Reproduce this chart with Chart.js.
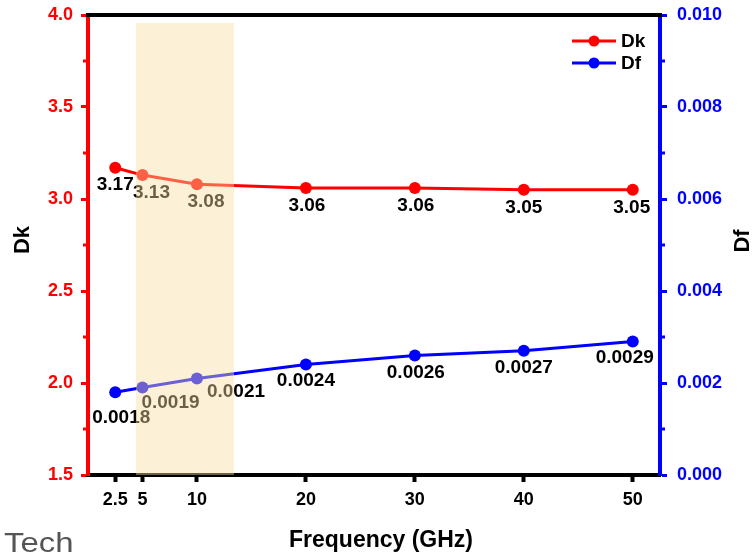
<!DOCTYPE html>
<html><head><meta charset="utf-8">
<script src="https://cdn.jsdelivr.net/npm/chart.js@4"></script>
<style>html,body{margin:0;padding:0;background:#fff}#wrap{width:754px;height:553px}</style>
</head><body><div id="wrap"><canvas id="c" width="754" height="553"></canvas></div>
<script>
const frequencies = [2.5, 5, 10, 20, 30, 40, 50];
const dkValues = [3.17, 3.13, 3.08, 3.06, 3.06, 3.05, 3.05];
const dfValues = [0.0018, 0.0019, 0.0021, 0.0024, 0.0026, 0.0027, 0.0029];
const xTickValues = [2.5, 5, 10, 20, 30, 40, 50];
const dkTickValues = [1.5, 2.0, 2.5, 3.0, 3.5, 4.0];
const dfTickValues = [0, 0.002, 0.004, 0.006, 0.008, 0.010];
const dkLabels = ['3.17', '3.13', '3.08', '3.06', '3.06', '3.05', '3.05'];
const dfLabels = ['0.0018', '0.0019', '0.0021', '0.0024', '0.0026', '0.0027', '0.0029'];
const highlightRange = [4.4, 13.4];

const FONT = '"Liberation Sans", Arial, sans-serif';
const dkOffsets = [[0,17],[9,18],[9,17],[1,18],[1,18],[0,18],[-1,18]];
const dfOffsets = [[6,26],[28,15],[39,13],[0,16],[1,17],[0,17],[-8,16]];

const extras = {
  id: 'extras',
  afterDatasetsDraw(chart) {
    const ctx = chart.ctx, ca = chart.chartArea;
    const xs = chart.scales.x, yl = chart.scales.y;
    ctx.save();
    ctx.font = 'bold 19px ' + FONT;
    ctx.fillStyle = '#000';
    ctx.textAlign = 'center';
    ctx.textBaseline = 'middle';
    chart.getDatasetMeta(0).data.forEach((p, i) => {
      ctx.fillText(dkLabels[i], p.x + dkOffsets[i][0], p.y + dkOffsets[i][1]);
    });
    chart.getDatasetMeta(1).data.forEach((p, i) => {
      ctx.fillText(dfLabels[i], p.x + dfOffsets[i][0], p.y + dfOffsets[i][1]);
    });
    const x0 = xs.getPixelForValue(highlightRange[0]);
    const x1 = xs.getPixelForValue(highlightRange[1]);
    const yt = yl.getPixelForValue(3.957);
    ctx.fillStyle = 'rgba(249,223,160,0.43)';
    ctx.fillRect(x0, yt, x1 - x0, ca.bottom - yt);
    ctx.restore();
  },
  afterDraw(chart) {
    const ctx = chart.ctx, ca = chart.chartArea;
    const yl = chart.scales.y, yr = chart.scales.y2;
    ctx.save();
    ctx.strokeStyle = '#000';
    ctx.lineWidth = 4;
    ctx.beginPath();
    ctx.moveTo(ca.left - 2, ca.top);
    ctx.lineTo(ca.right + 2, ca.top);
    ctx.stroke();
    ctx.lineWidth = 3;
    ctx.strokeStyle = '#ff0000';
    [3.75, 3.25, 2.75, 2.25, 1.75].forEach(v => {
      const y = yl.getPixelForValue(v);
      ctx.beginPath(); ctx.moveTo(ca.left - 2, y); ctx.lineTo(ca.left - 5, y); ctx.stroke();
    });
    ctx.strokeStyle = '#0000ff';
    [0.009, 0.007, 0.005, 0.003, 0.001].forEach(v => {
      const y = yr.getPixelForValue(v);
      ctx.beginPath(); ctx.moveTo(ca.right + 2, y); ctx.lineTo(ca.right + 5, y); ctx.stroke();
    });
    // axis titles
    ctx.fillStyle = '#000';
    ctx.font = 'bold 22px ' + FONT;
    ctx.textAlign = 'center';
    ctx.textBaseline = 'middle';
    [['Dk', 23, 240], ['Df', 743, 241]].forEach(([t, x, y]) => {
      ctx.save(); ctx.translate(x, y); ctx.rotate(-Math.PI / 2); ctx.fillText(t, 0, 0); ctx.restore();
    });
    ctx.font = 'bold 23px ' + FONT;
    ctx.textBaseline = 'alphabetic';
    ctx.fillText('Frequency (GHz)', 381, 547);
    // legend
    chart.data.datasets.forEach((ds, i) => {
      const y = 41 + i * 22;
      ctx.strokeStyle = ds.borderColor;
      ctx.lineWidth = 3;
      ctx.beginPath(); ctx.moveTo(572, y); ctx.lineTo(616, y); ctx.stroke();
      ctx.fillStyle = ds.backgroundColor;
      ctx.beginPath(); ctx.arc(594, y, 5.5, 0, Math.PI * 2); ctx.fill();
      ctx.fillStyle = '#000';
      ctx.font = 'bold 19px ' + FONT;
      ctx.textAlign = 'left';
      ctx.textBaseline = 'middle';
      ctx.fillText(ds.label, 621, y + 1);
    });
    // watermark
    ctx.save();
    ctx.fillStyle = '#555';
    ctx.font = '27px ' + FONT;
    ctx.textAlign = 'left';
    ctx.textBaseline = 'alphabetic';
    ctx.translate(4, 552);
    ctx.scale(1.22, 1);
    ctx.fillText('Tech', 0, 0);
    ctx.restore();
    ctx.restore();
  }
};

const fitV = w => s => { s.width = w; s.paddingTop = 0; s.paddingBottom = 0; };

new Chart(document.getElementById('c'), {
  type: 'line',
  data: {
    datasets: [
      {
        label: 'Dk', yAxisID: 'y',
        data: frequencies.map((f, i) => ({x: f, y: dkValues[i]})),
        borderColor: '#ff0000', backgroundColor: '#ff0000',
        borderWidth: 3, pointRadius: 6, pointHoverRadius: 6, pointBorderWidth: 0, tension: 0
      },
      {
        label: 'Df', yAxisID: 'y2',
        data: frequencies.map((f, i) => ({x: f, y: dfValues[i]})),
        borderColor: '#0000ff', backgroundColor: '#0000ff',
        borderWidth: 3, pointRadius: 6, pointHoverRadius: 6, pointBorderWidth: 0, tension: 0
      }
    ]
  },
  options: {
    responsive: false, animation: false, devicePixelRatio: 1,
    layout: {padding: {top: 15, left: 0, right: 0, bottom: 0}},
    plugins: {legend: {display: false}, tooltip: {enabled: false}},
    scales: {
      x: {
        type: 'linear', min: 0, max: 52.5,
        afterBuildTicks: s => { s.ticks = xTickValues.map(v => ({value: v})); },
        afterFit: s => { s.height = 78; s.paddingLeft = 0; s.paddingRight = 0; },
        grid: {display: true, drawOnChartArea: false, tickLength: 7, tickWidth: 4, tickColor: '#000'},
        border: {display: true, color: '#000', width: 4},
        ticks: {color: '#000', font: {family: FONT, weight: 'bold', size: 18}, padding: 7, maxRotation: 0, autoSkip: false,
                callback: v => String(v)}
      },
      y: {
        position: 'left', min: 1.5, max: 4.0,
        afterBuildTicks: s => { s.ticks = dkTickValues.map(v => ({value: v})); },
        afterFit: fitV(88),
        grid: {display: true, drawOnChartArea: false, tickLength: 7, tickWidth: 3, tickColor: '#ff0000'},
        border: {display: true, color: '#ff0000', width: 4},
        ticks: {color: '#ff0000', font: {family: FONT, weight: 'bold', size: 18}, padding: 8, callback: v => v.toFixed(1)}
      },
      y2: {
        position: 'right', min: 0, max: 0.010,
        afterBuildTicks: s => { s.ticks = dfTickValues.map(v => ({value: v})); },
        afterFit: fitV(94),
        grid: {display: true, drawOnChartArea: false, tickLength: 7, tickWidth: 3, tickColor: '#0000ff'},
        border: {display: true, color: '#0000ff', width: 4},
        ticks: {color: '#0000ff', font: {family: FONT, weight: 'bold', size: 18}, padding: 10, callback: v => v.toFixed(3)}
      }
    }
  },
  plugins: [extras]
});
</script>
</body></html>
